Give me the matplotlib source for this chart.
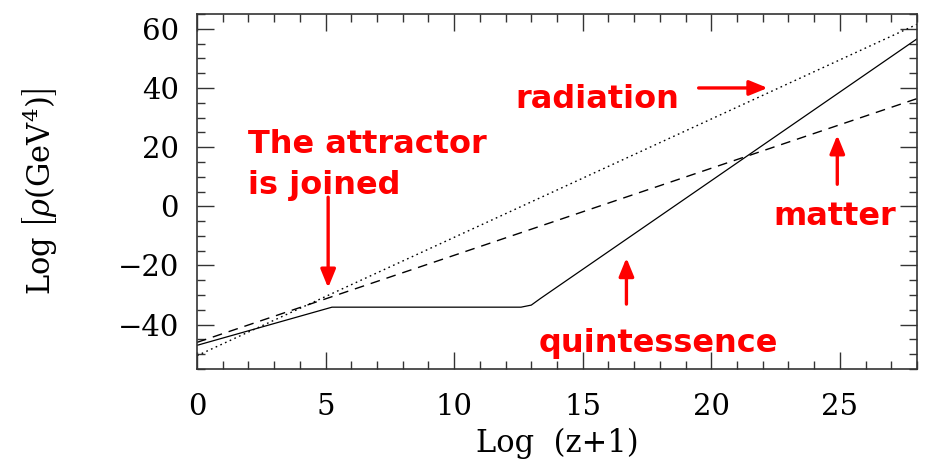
import matplotlib
matplotlib.use("Agg")
import matplotlib.pyplot as plt
from matplotlib.ticker import MultipleLocator

plt.rcParams['font.family'] = 'DejaVu Serif'
plt.rcParams['mathtext.fontset'] = 'dejavuserif'

# energy densities vs Log(z+1)
rad_x = [0, 28]
rad_y = [-50.5, 61.5]

mat_x = [0, 28]
mat_y = [-46.0, 36.4]

quint_x = [0, 5.25, 12.6, 13.0, 13.35, 28]
quint_y = [-47.0, -34.1, -34.1, -33.4, -31.2, 56.6]

red = '#ff0000'
note_font = dict(color=red, fontsize=23, fontweight='bold', family='DejaVu Sans')

fig = plt.figure(figsize=(9.32, 4.68), dpi=100)
ax = fig.add_axes([197 / 932, 1 - 369 / 468, 720 / 932, 355 / 468])

ax.plot(rad_x, rad_y, color='black', lw=1.0, linestyle=(0, (1.2, 2.5)))
ax.plot(mat_x, mat_y, color='black', lw=1.0, linestyle=(0, (7, 5)))
ax.plot(quint_x, quint_y, color='black', lw=0.9)

ax.set_xlim(0, 28)
ax.set_ylim(-55, 65)
ax.xaxis.set_major_locator(MultipleLocator(5))
ax.xaxis.set_minor_locator(MultipleLocator(1))
ax.yaxis.set_major_locator(MultipleLocator(20))
ax.yaxis.set_minor_locator(MultipleLocator(5))
ax.tick_params(which='both', direction='in', top=True, right=True, width=1.0, color='#333333')
ax.tick_params(which='major', length=12, labelsize=21)
ax.tick_params(axis='x', which='major', pad=17)
ax.tick_params(axis='y', which='major', pad=13)
ax.tick_params(which='minor', length=6)
for s in ax.spines.values():
    s.set_linewidth(1.2)
    s.set_color('#333333')

ax.set_xlabel('Log  (z+1)', fontsize=22)
ax.set_ylabel(r'Log $\left[\rho(\mathrm{GeV}^4)\right]$', fontsize=22)
ax.xaxis.set_label_coords(0.5, -0.165)
ax.yaxis.set_label_coords(-0.19, 0.5)

arrow = dict(arrowstyle='-|>,head_length=1.1,head_width=0.45', color=red, lw=2.4)

ax.text(2.0, 14.0, 'The attractor\nis joined', ha='left', va='center', linespacing=1.4, **note_font)
ax.annotate('', xy=(5.1, -28.5), xytext=(5.1, 4), arrowprops=arrow)

ax.text(12.4, 36, 'radiation', ha='left', va='center', **note_font)
ax.annotate('', xy=(22.3, 40), xytext=(19.4, 40), arrowprops=arrow)

ax.text(22.4, -3.5, 'matter', ha='left', va='center', **note_font)
ax.annotate('', xy=(24.9, 25), xytext=(24.9, 6.5), arrowprops=arrow)

ax.text(13.3, -46.5, 'quintessence', ha='left', va='center', **note_font)
ax.annotate('', xy=(16.7, -16.5), xytext=(16.7, -34), arrowprops=arrow)

fig.savefig('out.png', dpi=100)
